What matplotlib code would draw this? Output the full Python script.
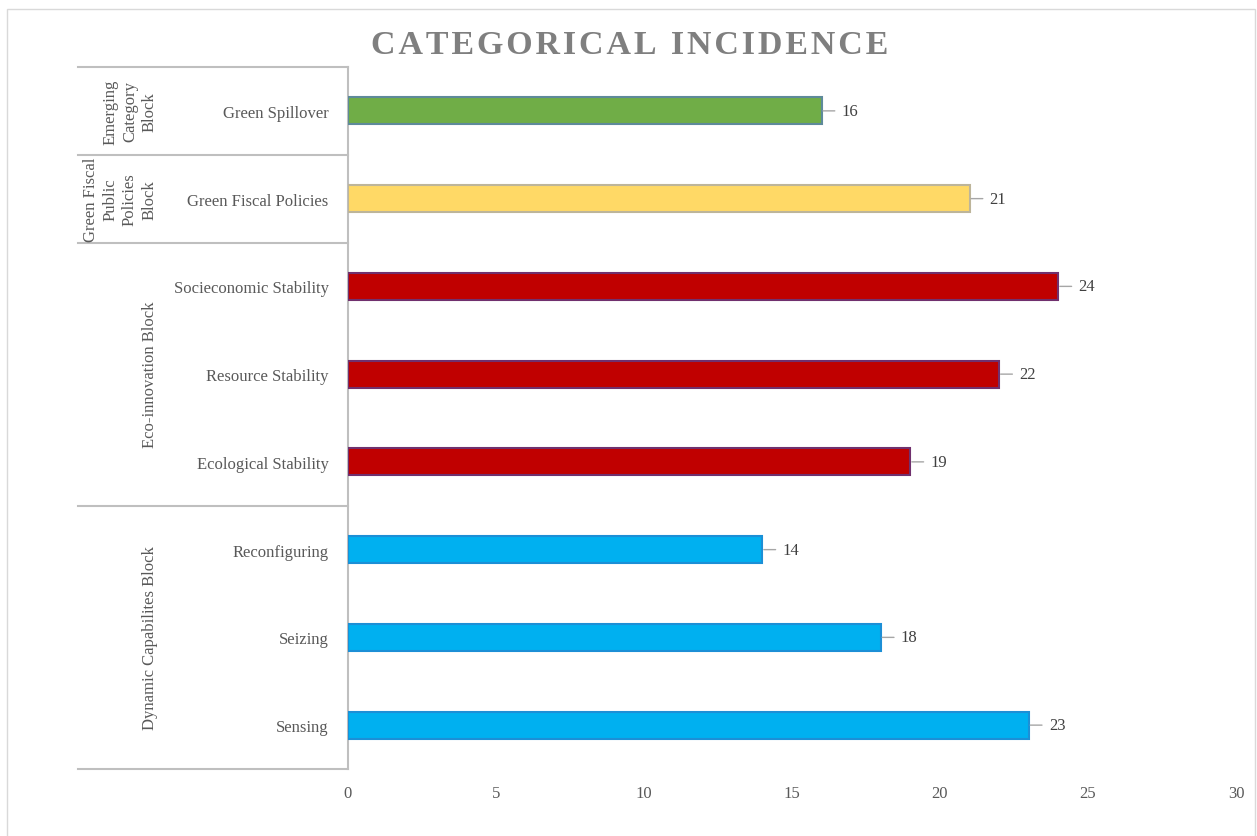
import matplotlib
matplotlib.use('Agg')
import matplotlib.pyplot as plt
from matplotlib.patches import Rectangle

plt.rcParams['font.family'] = ['Liberation Serif', 'DejaVu Serif']

# Dados (de cima para baixo)
categories = ['Green Spillover', 'Green Fiscal Policies', 'Socieconomic Stability',
              'Resource Stability', 'Ecological Stability', 'Reconfiguring',
              'Seizing', 'Sensing']
values = [16, 21, 24, 22, 19, 14, 18, 23]
groups = ['Emerging\nCategory\nBlock', 'Green Fiscal\nPublic\nPolicies\nBlock',
          'Eco-innovation Block', 'Dynamic Capabilites Block']
group_sizes = [1, 1, 3, 3]
group_fill = ['#70AD47', '#FFD966', '#C00000', '#00B0F0']
group_edge = ['#5E8A9A', '#BDB59A', '#70306E', '#1C8FD6']
xticks = [0, 5, 10, 15, 20, 25, 30]
title = 'CATEGORICAL INCIDENCE'

W, H = 1257, 837
fig = plt.figure(figsize=(W / 100, H / 100), dpi=100)
ax = fig.add_axes([348 / W, 1 - 770 / H, (1236 - 348) / W, (770 - 68) / H])

# Borda do gráfico
fig.patches.append(Rectangle((7 / W, -0.01), (1255 - 7) / W, 1 - 10 / H + 0.01,
                             transform=fig.transFigure, fill=False,
                             edgecolor='#D9D9D9', lw=1))

ypos = list(range(len(categories)))
colors, edges = [], []
for f, e, n in zip(group_fill, group_edge, group_sizes):
    colors += [f] * n
    edges += [e] * n

ax.barh(ypos, values, height=0.31, color=colors, edgecolor=edges, linewidth=1.5, zorder=3)

for y, v in zip(ypos, values):
    ax.annotate(str(v), xy=(v, y), xytext=(14.5, 0), textcoords='offset points',
                ha='left', va='center', fontsize=12, color='#404040',
                arrowprops=dict(arrowstyle='-', color='#A6A6A6', lw=1,
                                shrinkA=3, shrinkB=1))

ax.set_xlim(0, 30)
ax.set_ylim(len(categories) - 0.5, -0.5)
ax.set_xticks(xticks)
ax.set_yticks(ypos)
ax.set_yticklabels(categories)
ax.tick_params(axis='x', length=0, pad=11.5, labelsize=12, labelcolor='#595959')
ax.tick_params(axis='y', length=0, pad=14, labelsize=12, labelcolor='#595959')

for s in ['top', 'right', 'bottom']:
    ax.spines[s].set_visible(False)
ax.spines['left'].set_color('#BFBFBF')
ax.spines['left'].set_linewidth(1.5)

# Divisores e rótulos dos blocos
trans = ax.get_yaxis_transform()
left = (78 - 348) / (1236 - 348)
start = -0.5
ax.plot([left, 0], [start, start], transform=trans, color='#BFBFBF', lw=1.5, clip_on=False)
group_x = [(130 - 348) / 888, (120 - 348) / 888, (150 - 348) / 888, (150 - 348) / 888]
for g, n, gx in zip(groups, group_sizes, group_x):
    end = start + n
    ax.plot([left, 0], [end, end], transform=trans, color='#BFBFBF', lw=1.5, clip_on=False)
    ax.text(gx, (start + end) / 2, g, transform=trans, rotation=90,
            ha='center', va='center', multialignment='center',
            fontsize=12, color='#595959', linespacing=1.28)
    start = end

# Título com espaçamento entre letras
fig.text(630 / W, 1 - 46 / H, '\u200a'.join(title), ha='center', va='center',
         fontsize=24.5, fontweight='bold', color='#7F7F7F')

fig.savefig('out.png', dpi=100)
plt.close(fig)
